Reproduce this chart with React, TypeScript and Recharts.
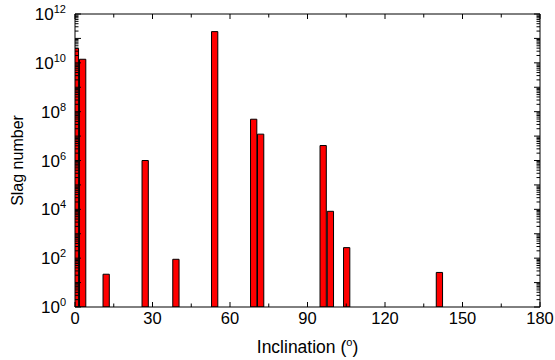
import { ComposedChart, Bar, Line, XAxis, YAxis } from "recharts";

// bar centres (deg) and slag counts
const inclination = [0.3, 3.1, 12.2, 27.3, 39.2, 54.2, 69.3, 72.0, 96.2, 99.0, 105.3, 141.2];
const slagNumber = [3.9e10, 1.4e10, 22, 1.0e6, 90, 1.9e11, 4.9e7, 1.2e7, 4.1e6, 8.3e3, 270, 26];

const xTicks = [0, 15, 30, 45, 60, 75, 90, 105, 120, 135, 150, 165, 180];
const xLabelStep = 30;
const yDecades = [0, 1, 2, 3, 4, 5, 6, 7, 8, 9, 10, 11, 12];
const yMinorFactors = [2, 3, 4, 5, 6, 7, 8, 9];
const yLabelStep = 2;

const data = inclination.map((x, i) => ({ x, slag: slagNumber[i] }));

const yTicks: number[] = [];
yDecades.forEach((d) => {
  yTicks.push(Math.pow(10, d));
  if (d < yDecades[yDecades.length - 1]) yMinorFactors.forEach((f) => yTicks.push(f * Math.pow(10, d)));
});

const FONT = "'Liberation Sans', Arial, sans-serif";
const M = 8; // tick margin
const MAJOR = 6;
const MINOR = 3.5;

const decadeOf = (v: number) => {
  const e = Math.round(Math.log10(v));
  return Math.abs(v - Math.pow(10, e)) < v * 1e-6 ? e : null;
};

const LeftTick = (props: any) => {
  const { x, y, payload } = props;
  const e = decadeOf(payload.value);
  const ax = x + M;
  return (
    <g>
      <line x1={ax} x2={ax + (e !== null ? MAJOR : MINOR)} y1={y} y2={y} stroke="#000" />
      {e !== null && e % yLabelStep === 0 && (
        <text x={x - 1} y={y + 6} textAnchor="end" fontSize={17} fontFamily={FONT} fill="#000">
          10<tspan dy={-7} fontSize={11}>{e}</tspan>
        </text>
      )}
    </g>
  );
};

const RightTick = (props: any) => {
  const { x, y, payload } = props;
  const e = decadeOf(payload.value);
  const ax = x - M;
  return <line x1={ax} x2={ax - (e !== null ? MAJOR : MINOR)} y1={y} y2={y} stroke="#000" />;
};

const BottomTick = (props: any) => {
  const { x, y, payload } = props;
  const major = payload.value % xLabelStep === 0;
  const ay = y - M;
  return (
    <g>
      <line x1={x} x2={x} y1={ay} y2={ay - (major ? MAJOR - 1 : MINOR)} stroke="#000" />
      {major && (
        <text x={x} y={ay + 17} textAnchor="middle" fontSize={16.5} fontFamily={FONT} fill="#000">
          {payload.value}
        </text>
      )}
    </g>
  );
};

const TopTick = (props: any) => {
  const { x, y, payload } = props;
  const major = payload.value % xLabelStep === 0;
  const ay = y + M;
  return <line x1={x} x2={x} y1={ay} y2={ay + (major ? MAJOR - 1 : MINOR)} stroke="#000" />;
};

const XTitle = ({ viewBox }: any) => (
  <text x={viewBox.x + viewBox.width / 2} y={viewBox.y + 46} textAnchor="middle" fontSize={17.5} fontFamily={FONT} fill="#000">
    Inclination (<tspan dy={-7} fontSize={11}>o</tspan><tspan dy={7}>)</tspan>
  </text>
);

const YTitle = ({ viewBox }: any) => {
  const cx = 17;
  const cy = viewBox.y + viewBox.height / 2;
  return (
    <text x={cx} y={cy} transform={`rotate(-90 ${cx} ${cy})`} textAnchor="middle" dominantBaseline="central" fontSize={16} fontFamily={FONT} fill="#000">
      Slag number
    </text>
  );
};

export default function App() {
  return (
    <div style={{ position: "absolute", left: 0, top: 0, background: "#fff" }}>
      <ComposedChart width={555} height={360} data={data} margin={{ top: 13, right: 14, bottom: 0, left: 0 }}>
        <XAxis
          xAxisId="bottom"
          dataKey="x"
          type="number"
          domain={[0, 180]}
          allowDataOverflow
          ticks={xTicks}
          interval={0}
          height={53}
          tickSize={0}
          tickMargin={M}
          tickLine={false}
          tick={<BottomTick />}
          axisLine={{ stroke: "#000" }}
          label={{ content: <XTitle /> }}
        />
        <XAxis
          xAxisId="top"
          orientation="top"
          dataKey="x"
          type="number"
          domain={[0, 180]}
          allowDataOverflow
          ticks={xTicks}
          interval={0}
          height={1}
          tickSize={0}
          tickMargin={M}
          tickLine={false}
          tick={<TopTick />}
          axisLine={{ stroke: "#000" }}
        />
        <YAxis
          yAxisId="left"
          scale="log"
          type="number"
          domain={[1, 1e12]}
          allowDataOverflow
          ticks={yTicks}
          interval={0}
          width={75}
          tickSize={0}
          tickMargin={M}
          tickLine={false}
          tick={<LeftTick />}
          axisLine={{ stroke: "#000" }}
          label={{ content: <YTitle /> }}
        />
        <YAxis
          yAxisId="right"
          orientation="right"
          scale="log"
          type="number"
          domain={[1, 1e12]}
          allowDataOverflow
          ticks={yTicks}
          interval={0}
          width={1}
          tickSize={0}
          tickMargin={M}
          tickLine={false}
          tick={<RightTick />}
          axisLine={{ stroke: "#000" }}
        />
        <Bar
          xAxisId="bottom"
          yAxisId="left"
          dataKey="slag"
          barSize={7}
          fill="#ff0000"
          stroke="#000"
          strokeWidth={1}
          isAnimationActive={false}
        />
        <Line
          xAxisId="top"
          yAxisId="right"
          dataKey="slag"
          stroke="none"
          dot={false}
          activeDot={false}
          isAnimationActive={false}
        />
      </ComposedChart>
    </div>
  );
}
